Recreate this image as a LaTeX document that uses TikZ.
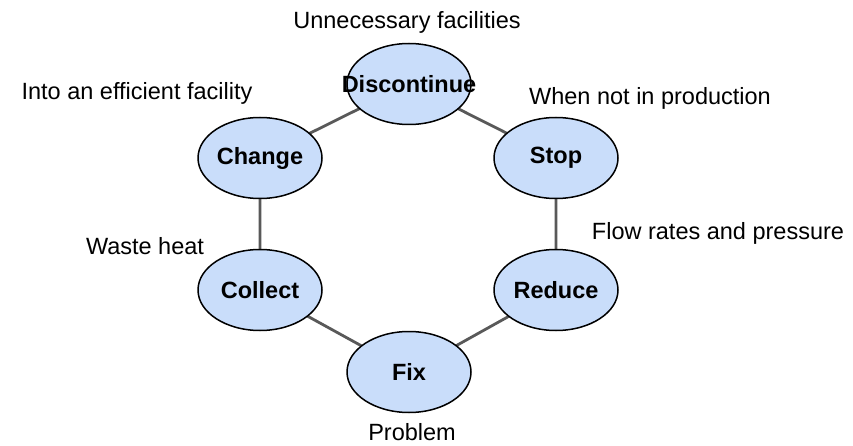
\documentclass[tikz,border=0pt]{standalone}
\usepackage{fontspec}
\setmainfont{Liberation Sans}
\usepackage{tikz}
\usetikzlibrary{shapes.geometric}
\definecolor{cellblue}{HTML}{C9DDFA}
\definecolor{linkgray}{HTML}{595959}
\tikzset{
  act/.style ={draw=black,line width=1.5pt,fill=cellblue,ellipse,
               minimum width=124pt,minimum height=81pt,inner sep=0pt,
               label={[font=\fontsize{23.5}{26}\selectfont\bfseries,inner sep=0pt]center:#1}},
  lnk/.style ={draw=linkgray,line width=2.8pt},
  note/.style={font=\fontsize{23.5}{26}\selectfont,inner sep=0pt},
}

\begin{document}
\begin{tikzpicture}[x=1pt,y=-1pt]
  \useasboundingbox (0,0) rectangle (853,446);
  % links first, ellipses on top
  \coordinate (pd) at (409,84);
  \coordinate (ps) at (556,158);
  \coordinate (pr) at (556,290);
  \coordinate (pf) at (409,372);
  \coordinate (pl) at (260,290);
  \coordinate (pc) at (260,158);
  \draw [lnk] (pd) -- (ps) -- (pr) -- (pf) -- (pl) -- (pc) -- cycle;
  \node [act=Discontinue] (disc) at (pd) {};
  \node [act=Stop]        (stop) at (ps) {};
  \node [act=Reduce]      (red)  at (pr) {};
  \node [act=Fix]         (fix)  at (pf) {};
  \node [act=Collect]     (coll) at (pl) {};
  \node [act=Change]      (chg)  at (pc) {};
  % side notes
  \node [note] (ndisc) at (407,22)  {Unnecessary facilities};
  \node [note] (nchg)  at (137,93)  {Into an efficient facility};
  \node [note] (nstop) at (650,98)  {When not in production};
  \node [note] (nred)  at (718,233) {Flow rates and pressure};
  \node [note] (ncoll) at (145,246) {Waste heat};
  \node [note] (nfix)  at (412,432) {Problem};
\end{tikzpicture}
\end{document}
